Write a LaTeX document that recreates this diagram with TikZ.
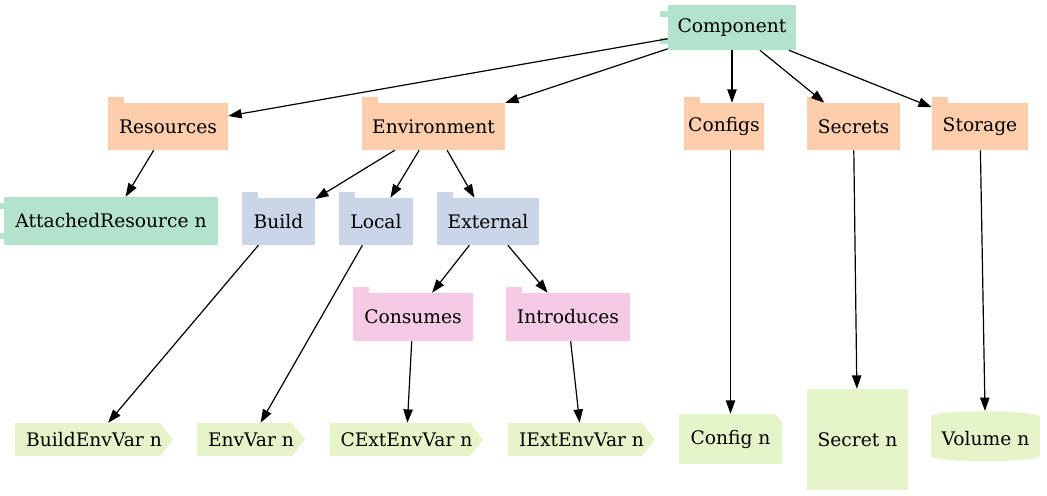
\documentclass[tikz,border=0pt]{standalone}
\usepackage{fontspec}
\setmainfont{DejaVu Serif}
\usetikzlibrary{arrows.meta,shapes.geometric}
\definecolor{cgreen}{HTML}{B3E2CD}
\definecolor{corange}{HTML}{FDCDAC}
\definecolor{cblue}{HTML}{CBD5E8}
\definecolor{cpink}{HTML}{F4CAE4}
\definecolor{clime}{HTML}{E6F5C9}
\begin{document}
\begin{tikzpicture}[x=0.75pt,y=-0.75pt,
	every node/.style={inner sep=0pt,font=\fontsize{14}{16}\selectfont},
	sz/.style 2 args={minimum width=#1*0.75pt,minimum height=#2*0.75pt},
	edge/.style={-{Triangle[length=10pt,width=7pt]},line width=0.9pt}]
	\useasboundingbox (0,0) rectangle (1047,496);
	\node (comp)   at (732,  27.5)	[fill = cgreen,  sz={128}{45}]	{Component};
	\node (res)    at (168,  126.5)	[fill = corange, sz={120}{47}]	{Resources};
	\node (env)    at (433.5,126.5)	[fill = corange, sz={143}{47}]	{Environment};
	\node (cfgs)   at (724,  126.5)	[fill = corange, sz={80}{47}]	{Configs};
	\node (secs)   at (853.5,126.5)	[fill = corange, sz={93}{47}]	{Secrets};
	\node (stor)   at (980,  126.5)	[fill = corange, sz={96}{47}]	{Storage};
	\node (attres) at (111,  221)	[fill = cgreen,  sz={214}{48}]	{AttachedResource n};
	\node (build)  at (278.5,221.5)	[fill = cblue,   sz={73}{47}]	{Build};
	\node (local)  at (376,  221.5)	[fill = cblue,   sz={74}{47}]	{Local};
	\node (ext)    at (488,  221.5)	[fill = cblue,   sz={102}{47}]	{External};
	\node (cons)   at (413,  317)	[fill = cpink,   sz={120}{48}]	{Consumes};
	\node (intro)  at (568,  317)	[fill = cpink,   sz={124}{48}]	{Introduces};
	% the cds shapes are filled below, behind their text
	\foreach \n/\x/\w in {bvar/94/158, evar/251/108, cvar/406.5/153, ivar/581.5/147}
		\fill[clime] (\x-\w/2,423) -- (\x+\w/2-13,423) -- (\x+\w/2,439.5)
			-- (\x+\w/2-13,456) -- (\x-\w/2,456) -- cycle;
	\node (bvar)   at (94,   439.5)	[sz={158}{33}]	{BuildEnvVar n};
	\node (evar)   at (251,  439.5)	[sz={108}{33}]	{EnvVar n};
	\node (cvar)   at (406.5,439.5)	[sz={153}{33}]	{CExtEnvVar n};
	\node (ivar)   at (581.5,439.5)	[sz={147}{33}]	{IExtEnvVar n};
	\node (cfgn)   at (730.5,439)	[fill = clime, sz={103}{50}]	{Config n};
	\node (secn)   at (857.5,439.5)	[fill = clime, sz={101}{101}]	{Secret n};
	\node (vol)    at (985.5,439)	[fill = clime, cylinder, shape border rotate=90, aspect=0.12, sz={109}{50}]	{Volume n};
	% tabs of the folders and the component boxes
	\foreach \n/\c in {res/corange, env/corange, cfgs/corange, secs/corange, stor/corange,
		build/cblue, local/cblue, ext/cblue, cons/cpink, intro/cpink}
		\fill[\c] (\n.north west) rectangle ++(12.5pt,4.5pt);
	\foreach \n in {comp, attres} {
		\fill[cgreen] ([xshift=-6pt,yshift=-4.5pt]\n.north west) rectangle ++(12pt,-4.5pt);
		\fill[cgreen] ([xshift=-6pt,yshift=4.5pt]\n.south west) rectangle ++(12pt,4.5pt);
	}
	\fill[white] (cfgn.north east) -- ++(-5.5pt,0pt) -- ++(5.5pt,-5.5pt) -- cycle;
	% edges
	\draw[edge] (comp) -- (res);
	\draw[edge] (comp) -- (env);
	\draw[edge] (comp.south) -- (comp.south |- cfgs.north);
	\draw[edge] (comp) -- (secs);
	\draw[edge] (comp) -- (stor);
	\draw[edge] (res) -- (attres);
	\draw[edge] (env) -- (build);
	\draw[edge] (env) -- (local);
	\draw[edge] (env) -- (ext);
	\draw[edge] (ext) -- (cons);
	\draw[edge] (ext) -- (intro);
	\draw[edge] (build) -- (bvar);
	\draw[edge] (local) -- (evar);
	\draw[edge] (cons) -- (cvar);
	\draw[edge] (intro) -- (ivar);
	\draw[edge] (cfgs.south -| cfgn.north) -- (cfgn.north);
	\draw[edge] (secs) -- (secn);
	\draw[edge] (stor) -- (vol);
\end{tikzpicture}
\end{document}
